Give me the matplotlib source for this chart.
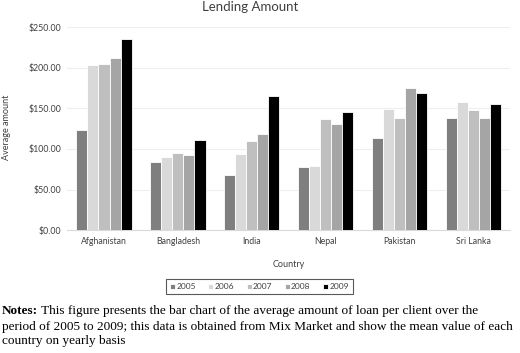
import matplotlib.pyplot as plt
import numpy as np

countries = ['Afghanistan', 'Bangladesh', 'India', 'Nepal', 'Pakistan', 'Sri Lanka']
years = ['2005', '2006', '2007', '2008', '2009']
amounts = {
    '2005': [122.8, 84.3, 67.8, 78.2, 113.0, 137.9],
    '2006': [203.3, 89.6, 94.0, 79.0, 149.6, 157.3],
    '2007': [204.0, 94.4, 109.9, 136.3, 137.9, 148.4],
    '2008': [212.0, 92.8, 118.4, 131.0, 175.5, 137.9],
    '2009': [235.0, 111.4, 165.0, 145.6, 168.7, 155.3],
}
colors = ['#7f7f7f', '#d9d9d9', '#bfbfbf', '#a5a5a5', '#000000']

plt.rcParams['font.family'] = ['Lato', 'DejaVu Sans']
txt = '#404040'

fig = plt.figure(figsize=(5.2, 3.53), dpi=100)
ax = fig.add_axes([0.129, 0.348, 0.852, 0.5755])

x = np.arange(len(countries))
w = 0.15
for i, (yr, c) in enumerate(zip(years, colors)):
    ax.bar(x + (i - 2) * w, amounts[yr], width=w, color=c, edgecolor='white',
           linewidth=0.6, label=yr, zorder=3)

ticks = np.arange(0, 251, 50)
ax.set_xlim(-0.5, len(countries) - 0.5)
ax.set_ylim(0, 250)
ax.set_yticks(ticks)
ax.set_yticklabels(['${:.2f}'.format(v) for v in ticks])
ax.set_xticks(x)
ax.set_xticklabels(countries)
ax.tick_params(length=0, labelsize=6.3, colors=txt)
ax.tick_params(axis='x', pad=5)
ax.tick_params(axis='y', pad=4)
ax.grid(axis='y', color='#eeeeee', linewidth=0.8, zorder=0)
for s in ['top', 'right', 'left']:
    ax.spines[s].set_visible(False)
ax.spines['bottom'].set_color('#d9d9d9')

ax.set_xlabel('Country', fontsize=6.5, color=txt, labelpad=10)
fig.text(0.012, 0.64, 'Average amount', rotation=90, ha='center', va='center',
         fontsize=6.5, color=txt)
fig.text(0.481, 0.996, 'Lending Amount', ha='center', va='top', fontsize=9.5, color=txt)

leg = fig.legend(loc='center', bbox_to_anchor=(0.499, 0.188), ncol=5, fontsize=6,
                 frameon=True, fancybox=False, handlelength=0.6, handleheight=0.6,
                 handletextpad=0.15, columnspacing=1.5, borderpad=0.45)
leg.get_frame().set_edgecolor('#303030')
leg.get_frame().set_linewidth(0.8)
for t in leg.get_texts():
    t.set_color(txt)

serif = ['Liberation Serif', 'DejaVu Serif']
fs = 9.5
t1 = fig.text(0.004, 0.11, 'Notes:', fontsize=fs, fontweight='bold', family=serif, va='baseline')
ax.annotate(' This figure presents the bar chart of the average amount of loan per client over the',
            xy=(1, 0), xycoords=t1, va='bottom', ha='left', fontsize=fs, family=serif,
            annotation_clip=False)
fig.text(0.004, 0.065, 'period of 2005 to 2009; this data is obtained from Mix Market and show the mean value of each',
         fontsize=fs, family=serif, va='baseline')
fig.text(0.004, 0.025, 'country on yearly basis', fontsize=fs, family=serif, va='baseline')

fig.savefig('out.png', dpi=100)
